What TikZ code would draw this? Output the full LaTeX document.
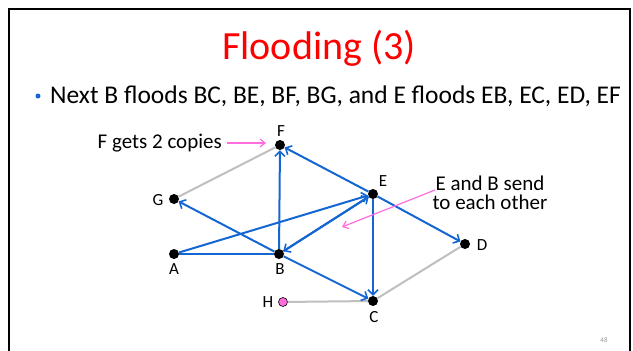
\documentclass[tikz,border=0pt]{standalone}
\usepackage{fontspec}
\setmainfont{Carlito}
\usetikzlibrary{arrows.meta}
\definecolor{flblue}{RGB}{20,102,210}
\definecolor{flgray}{RGB}{191,191,191}
\definecolor{flpink}{RGB}{255,110,220}
\definecolor{flred}{RGB}{255,0,0}
\tikzset{
  router/.style={circle,fill=black,minimum size=10pt,inner sep=0pt},
  hostdot/.style={circle,fill=flpink,draw=black,line width=0.6pt,minimum size=9pt,inner sep=0pt},
  rlabel/.style={font=\fontsize{17}{19}\selectfont,inner sep=0pt},
  floodarrow/.style={draw=flblue,line width=2pt,-{Straight Barb[length=5pt,width=10pt,line width=1.6pt]}},
  floodline/.style={draw=flblue,line width=2pt},
  idle/.style={draw=flgray,line width=2pt},
  note/.style={draw=flpink,line width=1.2pt,-{Straight Barb[length=5pt,width=8pt]}},
  notetext/.style={font=\fontsize{21}{19.5}\selectfont,inner sep=0pt,align=center}
}
\begin{document}
\begin{tikzpicture}[x=1pt,y=-1pt]
\useasboundingbox (0,0) rectangle (633,351);
\fill[white] (0,0) rectangle (633,351);
\draw[line width=2pt,black] (9,360) -- (9,9) -- (630,9) -- (630,360);
\node[text=flred,font=\fontsize{40}{46}\selectfont,inner sep=0pt] (title) at (319,48) {Flooding (3)};
\node[circle,fill=flblue,minimum size=5pt,inner sep=0pt] (bul) at (38,96) {};
\node[anchor=west,font=\fontsize{25.5}{30}\selectfont,inner sep=0pt] (btext) at (50,96) {Next B floods BC, BE, BF, BG, and E floods EB, EC, ED, EF};
% routers
\node[router] (F) at (280,145) {};
\node[router] (E) at (373,194) {};
\node[router] (G) at (174,199) {};
\node[router] (A) at (174,254) {};
\node[router] (B) at (279,254) {};
\node[router] (D) at (465,244) {};
\node[router] (C) at (373,301) {};
\node[hostdot] (H) at (283,302) {};
% labels
\node[rlabel] (lF) at (281,131) {F};
\node[rlabel] (lE) at (383,181) {E};
\node[rlabel] (lG) at (158,200) {G};
\node[rlabel] (lA) at (174,269) {A};
\node[rlabel] (lB) at (280,269) {B};
\node[rlabel] (lD) at (482,245) {D};
\node[rlabel] (lC) at (374,317) {C};
\node[rlabel] (lH) at (268,302) {H};
% idle links
\draw[idle] (G) -- (F);
\draw[idle] (C) -- (D);
\draw[idle] (H) -- (C);
% flooded links
\draw[floodline] (A) -- (B);
\draw[floodarrow] (A) -- (E);
\draw[floodarrow] (B) -- (F);
\draw[floodarrow] (B) -- (G);
\draw[floodarrow] (B) -- (C);
\draw[floodarrow] (B) -- (E);
\draw[floodarrow] (E) -- (B);
\draw[floodarrow] (E) -- (F);
\draw[floodarrow] (E) -- (C);
\draw[floodarrow] (E) -- (D);
% notes
\node[notetext,anchor=east] (n1) at (222,143) {F gets 2 copies};
\coordinate (n1end) at (266,143);
\draw[note] (n1.east) ++(5,0) coordinate (n1start) -- (n1end);
\node[notetext] (n2) at (490,193) {E and B send\\to each other};
\coordinate (n2start) at (435,190);
\coordinate (n2end) at (342,227);
\draw[note] (n2start) -- (n2end);
\node[text=flgray!80!black,font=\fontsize{7}{8}\selectfont,inner sep=0pt] (pg) at (604,340) {48};
\end{tikzpicture}
\end{document}
